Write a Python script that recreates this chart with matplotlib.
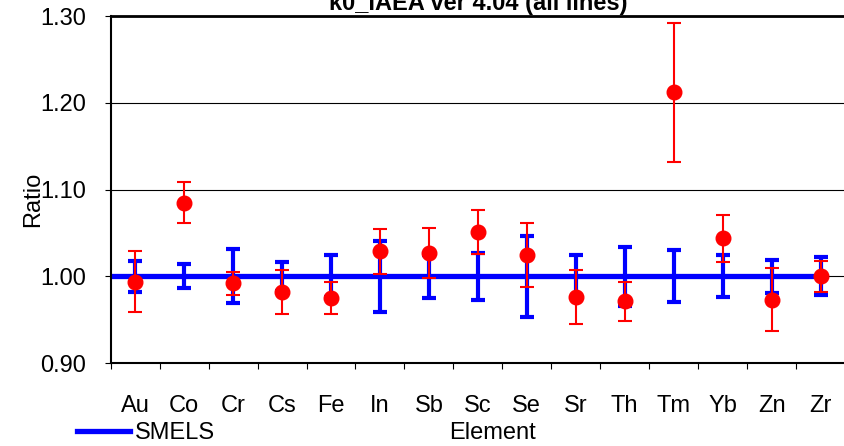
import numpy as np
import matplotlib
matplotlib.use("Agg")
import matplotlib.pyplot as plt

plt.rcParams['font.family'] = ['Liberation Sans', 'DejaVu Sans']

elements = ["Au", "Co", "Cr", "Cs", "Fe", "In", "Sb", "Sc", "Se", "Sr",
            "Th", "Tm", "Yb", "Zn", "Zr"]
# k0_IAEA / SMELS ratio and its uncertainty
ratio = [0.994, 1.085, 0.992, 0.982, 0.975, 1.029, 1.027, 1.051, 1.025, 0.976,
         0.971, 1.212, 1.044, 0.973, 1.000]
ratio_err = [0.035, 0.024, 0.013, 0.025, 0.018, 0.026, 0.029, 0.025, 0.037, 0.031,
             0.023, 0.080, 0.027, 0.036, 0.018]
# SMELS reference uncertainty around 1.00
smels_err = [0.018, 0.014, 0.031, 0.017, 0.024, 0.041, 0.025, 0.027, 0.047, 0.024,
             0.034, 0.030, 0.024, 0.019, 0.022]
yticks = [0.90, 1.00, 1.10, 1.20, 1.30]

FS = 17
x = np.arange(len(elements))
fig = plt.figure(figsize=(8.45, 4.46), dpi=100)
ax = fig.add_axes([0.131, 0.186, 0.869, 0.778])

for y in yticks[1:]:
    ax.axhline(y, color="black", lw=0.8, zorder=1)

# SMELS line starts at the left axis and ends at the last element
ax.plot(np.r_[-0.5, x], np.ones(len(x) + 1), color="#0000ff", lw=3.8,
        zorder=2, solid_capstyle="butt")
ax.errorbar(x, np.ones(len(x)), yerr=smels_err, fmt="none", ecolor="#0000ff",
            elinewidth=3, capsize=4.7, capthick=3, zorder=3)
ax.errorbar(x, ratio, yerr=ratio_err, fmt="o", color="#ff0000", ms=10.5,
            ecolor="#ff0000", elinewidth=1.5, capsize=4.7, capthick=1.5, zorder=4)

ax.set_xlim(-0.5, len(x) - 0.5)
ax.set_ylim(0.90, 1.30)
ax.set_yticks(yticks)
ax.set_yticklabels([f"{v:.2f}" for v in yticks], fontsize=FS)
ax.set_xticks(x)
ax.set_xticklabels(elements, fontsize=FS)
ax.set_xticks(np.arange(-0.5, len(x)), minor=True)
ax.tick_params(axis="x", which="major", length=0, pad=23)
ax.tick_params(axis="x", which="minor", length=4.5, width=0.8, direction="out")
ax.tick_params(axis="y", length=4.5, width=0.8, direction="out", pad=13)

ax.spines["right"].set_visible(False)
ax.spines["top"].set_linewidth(2)
ax.spines["left"].set_linewidth(1.5)
ax.spines["bottom"].set_linewidth(1.5)

fig.text(33 / 845, 1 - 199 / 446, "Ratio", rotation=90, ha="center",
         va="center", fontsize=FS)
fig.text(493 / 845, 1 - 433 / 446, "Element", ha="center", va="center",
         fontsize=FS)
fig.text(478 / 845, 1 - 10 / 446, "k0_IAEA ver 4.04 (all lines)", ha="center",
         va="baseline", fontsize=FS, fontweight="bold")

fig.legend(handles=[plt.Line2D([], [], color="#0000ff", lw=3.8)], labels=["SMELS"],
           loc="center left", bbox_to_anchor=(77 / 845, 1 - 433 / 446),
           frameon=False, fontsize=FS, handlelength=2.25, handletextpad=0.2,
           borderpad=0, borderaxespad=0)

fig.savefig("out.png", dpi=100)
